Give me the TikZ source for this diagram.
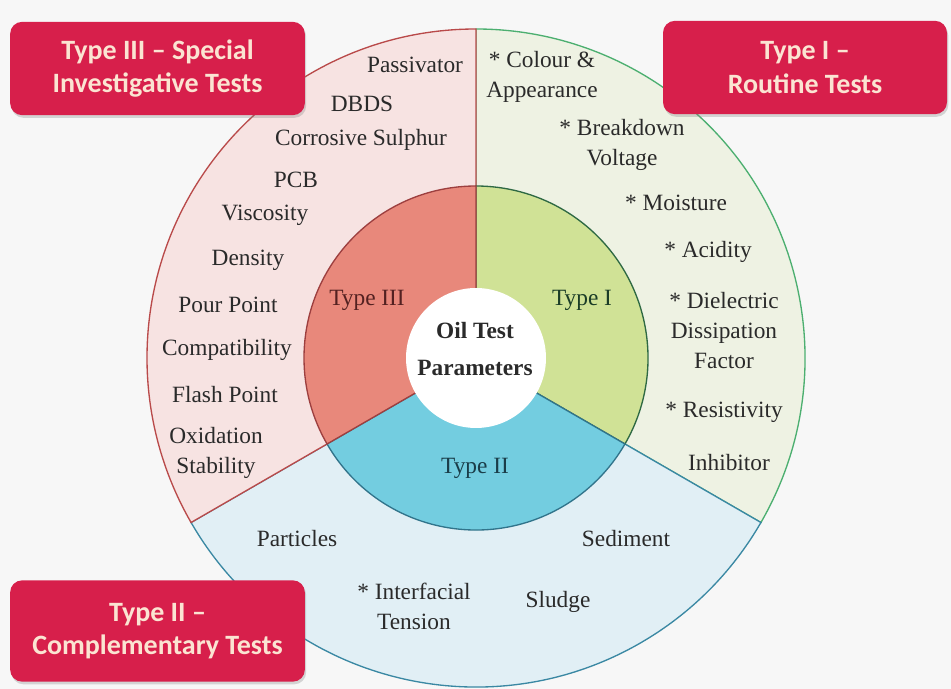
\documentclass[tikz,border=0pt]{standalone}
\usepackage{fontspec}
\setmainfont{Liberation Serif}
\newfontfamily\tagfont{Carlito}
\usepackage{xcolor}
\usetikzlibrary{shadows}

\definecolor{paper}{HTML}{F7F7F7}
\definecolor{ringIII}{HTML}{F7E3E2}
\definecolor{coreIII}{HTML}{E8887B}
\definecolor{edgeIII}{HTML}{B94A4A}
\definecolor{ringI}{HTML}{EEF2E3}
\definecolor{coreI}{HTML}{D0E296}
\definecolor{edgeI}{HTML}{4CAF70}
\definecolor{ringII}{HTML}{E1EFF5}
\definecolor{coreII}{HTML}{73CDE0}
\definecolor{edgeII}{HTML}{3A88A3}
\definecolor{tagred}{HTML}{D71F4B}
\definecolor{tagtext}{HTML}{FBE4D2}
\definecolor{txt}{HTML}{2A2A2A}

\begin{document}
\begin{tikzpicture}[
  x=0.75pt, y=0.75pt,
  font=\fontsize{17.5}{22.5}\selectfont,
  item/.style={text=txt, align=center, inner sep=0pt},
  kind/.style={item, text=#1},
  hub/.style={item, font=\bfseries\fontsize{17.5}{28}\selectfont},
  tag/.style={rounded corners=9pt, fill=tagred, text=tagtext, align=center,
              minimum height=70pt, inner sep=0pt,
              font=\tagfont\bfseries\fontsize{21}{25}\selectfont,
              drop shadow={shadow xshift=1pt, shadow yshift=-2pt, opacity=0.3}}
]
\useasboundingbox[fill=paper] (0,0) rectangle (951,689);
\coordinate (c) at (476,331);

% outer ring
\filldraw[fill=ringI, draw=edgeI, line width=1pt]
  (c) -- ++(-30:329) arc[start angle=-30, end angle=90, radius=329] -- cycle;
\filldraw[fill=ringII, draw=edgeII, line width=1pt]
  (c) -- ++(210:329) arc[start angle=210, end angle=330, radius=329] -- cycle;
\filldraw[fill=ringIII, draw=edgeIII, line width=1pt]
  (c) -- ++(90:329) arc[start angle=90, end angle=210, radius=329] -- cycle;

% inner ring
\filldraw[fill=coreI, draw=edgeI!60!black, line width=1pt]
  (c) -- ++(-30:172) arc[start angle=-30, end angle=90, radius=172] -- cycle;
\filldraw[fill=coreII, draw=edgeII!85!black, line width=1pt]
  (c) -- ++(210:172) arc[start angle=210, end angle=330, radius=172] -- cycle;
\filldraw[fill=coreIII, draw=edgeIII!85!black, line width=1pt]
  (c) -- ++(90:172) arc[start angle=90, end angle=210, radius=172] -- cycle;

\fill[white] (c) circle[radius=70];
\node[hub] (oil) at (475,340) {Oil Test\\Parameters};

\node[kind=edgeIII!45!black] (t3) at (367,389) {Type III};
\node[kind=edgeI!35!black] (t1) at (582,389) {Type I};
\node[kind=edgeII!45!black] (t2) at (475,221) {Type II};

% special investigative tests
\node[item] (passiv) at (415,624) {Passivator};
\node[item] (dbds) at (362,585) {DBDS};
\node[item] (sulph) at (361,549) {Corrosive Sulphur};
\node[item] (pcb) at (296,509) {PCB};
\node[item] (visc) at (265,474) {Viscosity};
\node[item] (dens) at (248,429) {Density};
\node[item] (pour) at (228,384) {Pour Point};
\node[item] (compat) at (227,339) {Compatibility};
\node[item] (flash) at (225,294) {Flash Point};
\node[item] (oxid) at (216,236) {Oxidation\\Stability};

% routine tests
\node[item] (colour) at (542,612) {* Colour \&\\Appearance};
\node[item] (bdv) at (622,544) {* Breakdown\\Voltage};
\node[item] (moist) at (676,486) {* Moisture};
\node[item] (acid) at (708,437) {* Acidity};
\node[item] (ddf) at (724,358) {* Dielectric\\Dissipation\\Factor};
\node[item] (resist) at (724,277) {* Resistivity};
\node[item] (inhib) at (729,226) {Inhibitor};

% complementary tests
\node[item] (partic) at (297,150) {Particles};
\node[item] (ift) at (414,83) {* Interfacial\\Tension};
\node[item] (sludge) at (558,87) {Sludge};
\node[item] (sedim) at (626,150) {Sediment};

% headings
\node[tag, minimum width=221pt] (typeIII) at (157.5,620.5) {Type III – Special\\Investigative Tests};
\node[tag, minimum width=213pt] (typeI) at (805,621.5) {Type I –\\Routine Tests};
\node[tag, minimum width=221pt, minimum height=76pt] (typeII) at (157.5,58) {Type II –\\Complementary Tests};
\end{tikzpicture}
\end{document}
